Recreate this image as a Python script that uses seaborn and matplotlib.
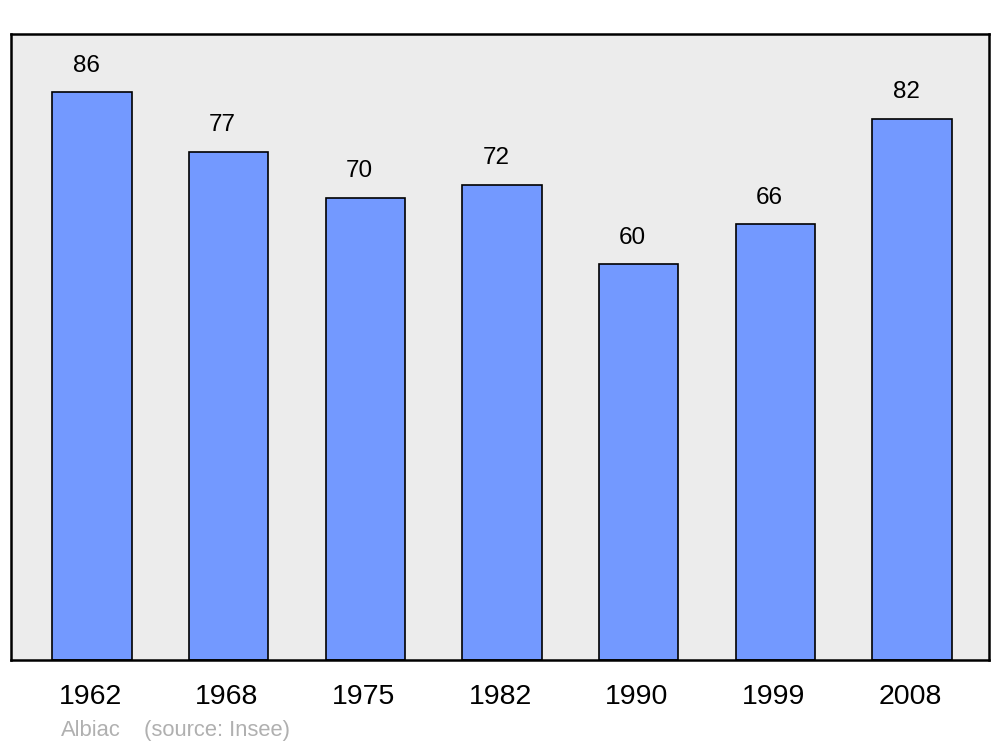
import matplotlib
matplotlib.use("Agg")
import matplotlib.pyplot as plt
import matplotlib.transforms as mtransforms
import seaborn as sns
import pandas as pd

years = ["1962", "1968", "1975", "1982", "1990", "1999", "2008"]
population = [86, 77, 70, 72, 60, 66, 82]
footer_name = "Albiac"
footer_source = "(source: Insee)"

sns.set_theme(style="white")
plt.rcParams["font.family"] = ["Liberation Sans", "DejaVu Sans"]

df = pd.DataFrame({"year": years, "pop": population})

fig = plt.figure(figsize=(10, 7.47), dpi=100)
ax = fig.add_axes([0.011, 0.1165, 0.978, 0.838])
ax.set_facecolor("#ececec")

sns.barplot(data=df, x="year", y="pop", ax=ax, color="#7399ff", saturation=1,
            width=0.58, edgecolor="black", linewidth=1.2)

for i, v in enumerate(population):
    ax.annotate(str(v), (i, v), xytext=(-4.3, 11), textcoords="offset points",
                ha="center", va="bottom", fontsize=17.5, color="black")

ax.set_xlim(-0.593, 6.563)
ax.set_ylim(0, 94.8)
ax.set_yticks([])
ax.set_xlabel("")
ax.set_ylabel("")
ax.tick_params(axis="x", length=0, pad=17, labelsize=20.5, labelcolor="black")
shift = mtransforms.ScaledTranslation(-2 / 100, 0, fig.dpi_scale_trans)
for lab in ax.get_xticklabels():
    lab.set_transform(lab.get_transform() + shift)
for s in ax.spines.values():
    s.set_visible(True)
    s.set_color("black")
    s.set_linewidth(1.8)

fig.text(0.061, 0.008, footer_name, fontsize=15.8, color="#b0b0b0", ha="left", va="bottom")
fig.text(0.144, 0.008, footer_source, fontsize=15.8, color="#b0b0b0", ha="left", va="bottom")

fig.savefig("out.png", dpi=100, facecolor="white")
